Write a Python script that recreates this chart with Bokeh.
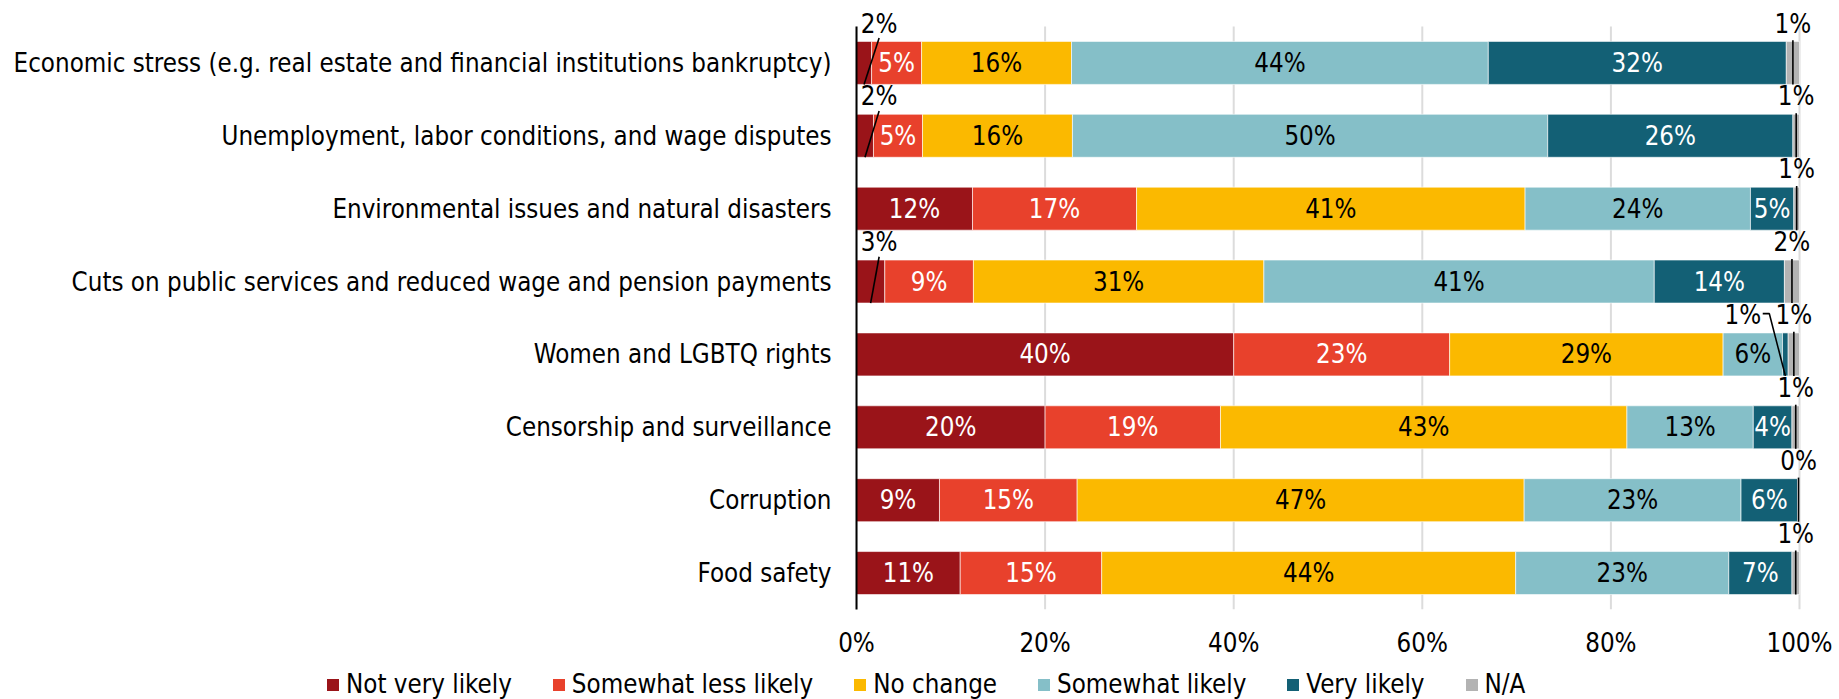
from bokeh.plotting import figure
from bokeh.layouts import column
from bokeh.models import ColumnDataSource, Range1d, FixedTicker, Legend, LegendItem
from bokeh.core.properties import value
from bokeh.embed import file_html
from bokeh.resources import INLINE

categories = [
    "Economic stress (e.g. real estate and financial institutions bankruptcy)",
    "Unemployment, labor conditions, and wage disputes",
    "Environmental issues and natural disasters",
    "Cuts on public services and reduced wage and pension payments",
    "Women and LGBTQ rights",
    "Censorship and surveillance",
    "Corruption",
    "Food safety",
]
series_names = ["Not very likely", "Somewhat less likely", "No change",
                "Somewhat likely", "Very likely", "N/A"]
not_very_likely      = [1.6, 1.8, 12.3, 3.0, 40.0, 20.0, 8.8, 11.0]
somewhat_less_likely = [5.3, 5.2, 17.4, 9.4, 22.9, 18.6, 14.6, 15.0]
no_change            = [15.9, 15.9, 41.2, 30.8, 29.0, 43.1, 47.4, 43.9]
somewhat_likely      = [44.2, 50.4, 23.9, 41.4, 6.3, 13.4, 23.0, 22.6]
very_likely          = [31.6, 26.0, 4.6, 13.8, 0.6, 4.1, 6.0, 6.7]
not_applicable       = [1.4, 0.7, 0.6, 1.6, 1.2, 0.8, 0.2, 0.8]
x_ticks = [0, 20, 40, 60, 80, 100]
x_tick_labels = ["0%", "20%", "40%", "60%", "80%", "100%"]

series_values = [not_very_likely, somewhat_less_likely, no_change,
                 somewhat_likely, very_likely, not_applicable]
colors = ["#9a1419", "#e8412c", "#fbb900", "#85bfc8", "#136075", "#b3b3b3"]
text_colors = ["white", "white", "black", "black", "white", "black"]

FONT = "DejaVu Sans Condensed"
FS = "25.7px"
BAR_H = 0.59
INSIDE_MIN = 3.5

# layout (pixels)
W, H_MAIN, H_LEG = 1839, 660, 39
FRAME_LEFT = 856
PX_PER_PCT = 9.43
PX_PER_ROW = 73
TOP_PAD = 26

n = len(categories)
ypos = [n - 1 - i for i in range(n)]
x_end = (W - FRAME_LEFT) / PX_PER_PCT
y_top = n - 0.5 + TOP_PAD / PX_PER_ROW
frame_h = n * PX_PER_ROW + TOP_PAD

p = figure(width=W, height=H_MAIN, output_backend="svg", toolbar_location=None,
           x_range=Range1d(0, x_end), y_range=Range1d(-0.5, y_top),
           min_border_left=FRAME_LEFT, min_border_right=0, min_border_top=0,
           min_border_bottom=H_MAIN - frame_h)
p.frame_align = False
p.outline_line_color = None
p.background_fill_color = "white"
p.border_fill_color = "white"
p.xgrid.grid_line_color = None
p.ygrid.grid_line_color = None

# vertical grid lines at the tick positions, spanning the category bands only
p.segment(x0=x_ticks, x1=x_ticks, y0=[-0.5] * len(x_ticks), y1=[n - 0.5] * len(x_ticks),
          line_color="#dcdcdc", line_width=2, level="underlay")

# axes
p.xaxis.ticker = FixedTicker(ticks=x_ticks)
p.xaxis.major_label_overrides = {t: l for t, l in zip(x_ticks, x_tick_labels)}
p.xaxis.axis_line_color = None
p.xaxis.major_tick_line_color = None
p.xaxis.minor_tick_line_color = None
p.xaxis.major_label_text_font = FONT
p.xaxis.major_label_text_font_size = FS
p.xaxis.major_label_text_color = "black"
p.xaxis.major_label_standoff = 12

p.yaxis.ticker = FixedTicker(ticks=ypos)
p.yaxis.bounds = (-0.5, n - 0.5)
p.yaxis.major_label_overrides = {y: c for y, c in zip(ypos, categories)}
p.yaxis.axis_line_color = "black"
p.yaxis.axis_line_width = 2
p.yaxis.major_tick_line_color = None
p.yaxis.minor_tick_line_color = None
p.yaxis.major_label_text_font = FONT
p.yaxis.major_label_text_font_size = FS
p.yaxis.major_label_text_color = "black"
p.yaxis.major_label_standoff = 19

cum = [0.0] * n
in_x, in_y, in_t, in_c = [], [], [], []
co_x, co_y, co_t = [], [], []
ln_xs, ln_ys = [], []
last = len(series_values) - 1
for s, vals in enumerate(series_values):
    left = cum[:]
    right = [l + v for l, v in zip(left, vals)]
    cum = right
    src = ColumnDataSource(dict(y=ypos, left=left, right=right))
    p.hbar(y="y", left="left", right="right", height=BAR_H, source=src,
           fill_color=colors[s], line_color="white", line_width=0.6)
    for i in range(n):
        v = vals[i]
        c = (left[i] + right[i]) / 2
        lab = f"{round(v):d}%"
        y = ypos[i]
        if v >= INSIDE_MIN and s != last:
            in_x.append(c); in_y.append(y); in_t.append(lab); in_c.append(text_colors[s])
        else:
            ty = y + 0.54
            if s == 0:
                lx = 2.4
                co_x.append(lx); co_y.append(ty); co_t.append(lab)
                ln_xs.append([lx, c]); ln_ys.append([y + 0.34, y - BAR_H / 2])
            elif s == last:
                co_x.append(c); co_y.append(ty); co_t.append(lab)
                ln_xs.append([c, c]); ln_ys.append([y + 0.31, y - BAR_H / 2])
            else:
                lx = c - 4.5
                co_x.append(lx); co_y.append(ty); co_t.append(lab)
                ln_xs.append([lx + 2.1, lx + 2.8, c]); ln_ys.append([ty + 0.02, ty + 0.02, y - BAR_H / 2])

p.text(x=in_x, y=in_y, text=in_t, text_color=in_c, text_align="center",
       text_baseline="middle", text_font=value(FONT), text_font_size=FS)
p.text(x=co_x, y=co_y, text=co_t, text_color="black", text_align="center",
       text_baseline="middle", text_font=value(FONT), text_font_size=FS)
p.multi_line(xs=ln_xs, ys=ln_ys, line_color="black", line_width=1.6)

# legend strip below the chart (its frame covers the whole strip)
pl = figure(width=W, height=H_LEG, output_backend="svg", toolbar_location=None,
            x_axis_location=None, y_axis_location=None,
            x_range=Range1d(0, 1), y_range=Range1d(0, 1),
            min_border=0)
pl.frame_align = False
pl.outline_line_color = None
pl.background_fill_color = "white"
pl.border_fill_color = "white"
pl.xgrid.grid_line_color = None
pl.ygrid.grid_line_color = None
items = []
for s, name in enumerate(series_names):
    # zero-width swatch renderers far outside the strip; only their legend entries show
    r = pl.hbar(y=[-50], left=[-50], right=[-50], height=0.1,
                fill_color=colors[s], line_color=None)
    items.append(LegendItem(label=name, renderers=[r]))
legend = Legend(items=items, orientation="horizontal", location=(325, 0),
                glyph_width=15, glyph_height=15, label_standoff=6, spacing=39,
                padding=0, margin=0, label_text_font=FONT, label_text_font_size=FS,
                label_text_color="black", label_height=26,
                border_line_color=None, background_fill_alpha=0)
pl.add_layout(legend, "center")

layout = column(p, pl, spacing=0)
open("out.html", "w").write(file_html(layout, INLINE))
